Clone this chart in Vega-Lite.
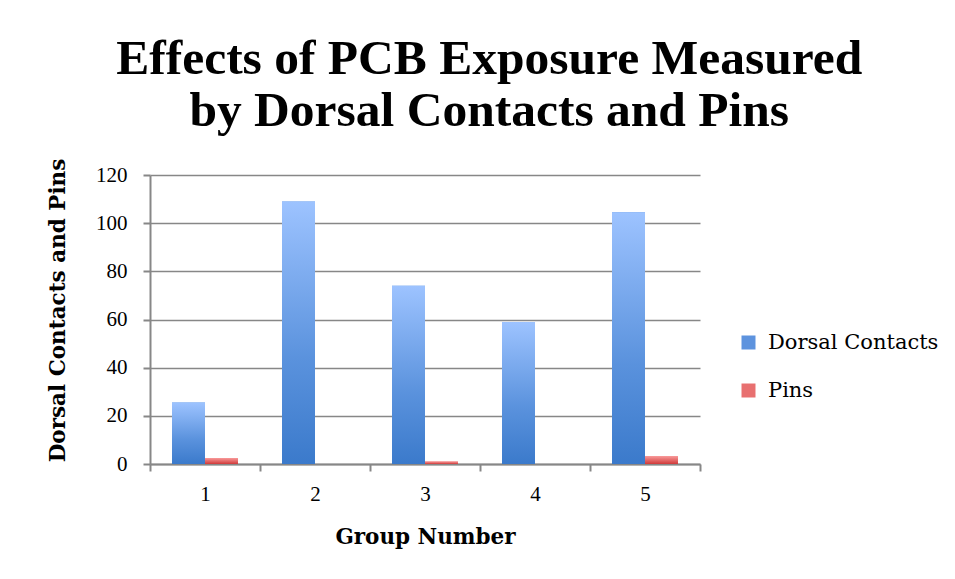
{
  "$schema": "https://vega.github.io/schema/vega-lite/v6.json",
  "width": 550,
  "height": 289,
  "autosize": {"type": "none"},
  "padding": {"left": 150, "top": 175, "right": 255, "bottom": 115},
  "background": "white",
  "title": {
    "text": ["Effects of PCB Exposure Measured", "by Dorsal Contacts and Pins"],
    "font": "Liberation Serif",
    "fontSize": 49.5,
    "fontWeight": "bold",
    "color": "black",
    "anchor": "middle",
    "frame": "bounds",
    "lineHeight": 52,
    "offset": 22,
    "dx": -4
  },
  "data": {
    "values": [
      {"group": "1", "series": "Dorsal Contacts", "value": 25.5},
      {"group": "1", "series": "Pins", "value": 2.5},
      {"group": "2", "series": "Dorsal Contacts", "value": 109},
      {"group": "2", "series": "Pins", "value": 0},
      {"group": "3", "series": "Dorsal Contacts", "value": 74},
      {"group": "3", "series": "Pins", "value": 1},
      {"group": "4", "series": "Dorsal Contacts", "value": 59},
      {"group": "4", "series": "Pins", "value": 0},
      {"group": "5", "series": "Dorsal Contacts", "value": 104.5},
      {"group": "5", "series": "Pins", "value": 3.3}
    ]
  },
  "encoding": {
    "x": {
      "field": "group",
      "type": "nominal",
      "title": "Group Number",
      "scale": {"paddingInner": 0, "paddingOuter": 0},
      "axis": {
        "labelAngle": 0,
        "tickBand": "extent",
        "grid": false,
        "labelFont": "Liberation Serif",
        "labelFontSize": 21,
        "labelColor": "black",
        "labelPadding": 12,
        "titleFont": "DejaVu Serif",
        "titleFontSize": 21.5,
        "titleFontWeight": "bold",
        "titleColor": "black",
        "titlePadding": 22,
        "domainColor": "#878787",
        "domainWidth": 2,
        "tickColor": "#878787",
        "tickWidth": 2,
        "tickSize": 7
      }
    },
    "xOffset": {
      "field": "series",
      "type": "nominal",
      "scale": {"paddingOuter": 0.667, "paddingInner": 0}
    },
    "y": {
      "field": "value",
      "type": "quantitative",
      "title": "Dorsal Contacts and Pins",
      "scale": {"domain": [0, 120], "nice": false},
      "axis": {
        "values": [0, 20, 40, 60, 80, 100, 120],
        "labelFont": "Liberation Serif",
        "labelFontSize": 21,
        "labelColor": "black",
        "labelPadding": 16,
        "titleFont": "DejaVu Serif",
        "titleFontSize": 21.5,
        "titleFontWeight": "bold",
        "titleColor": "black",
        "titlePadding": 26,
        "titleY": 135,
        "domainColor": "#878787",
        "domainWidth": 2,
        "tickColor": "#878787",
        "tickWidth": 2,
        "tickSize": 7,
        "gridColor": "#878787",
        "gridWidth": 1.5
      }
    }
  },
  "layer": [
    {
      "mark": {"type": "bar"},
      "encoding": {
        "color": {
          "field": "series",
          "type": "nominal",
          "title": null,
          "scale": {"domain": ["Dorsal Contacts", "Pins"], "range": ["#5d93de", "#e87070"]},
          "legend": {
            "orient": "none",
            "legendX": 588,
            "legendY": 157,
            "symbolType": "square",
            "symbolSize": 196,
            "symbolStrokeWidth": 0,
            "labelFont": "DejaVu Serif",
            "labelFontSize": 21,
            "labelLimit": 400,
            "labelColor": "black",
            "labelOffset": 9,
            "rowPadding": 26
          }
        }
      }
    },
    {
      "mark": {"type": "bar"},
      "encoding": {
        "fill": {
          "condition": {"test": "datum.series === 'Pins'", "value": {"gradient": "linear", "x1": 0, "y1": 0, "x2": 0, "y2": 1, "stops": [{"offset": 0, "color": "#f99a9a"}, {"offset": 1, "color": "#d03a3a"}]}},
          "value": {"gradient": "linear", "x1": 0, "y1": 0, "x2": 0, "y2": 1, "stops": [{"offset": 0, "color": "#9dc3ff"}, {"offset": 0.6, "color": "#5a92dd"}, {"offset": 1, "color": "#3b7acb"}]}
        }
      }
    }
  ],
  "config": {
    "view": {"stroke": null}
  }
}
